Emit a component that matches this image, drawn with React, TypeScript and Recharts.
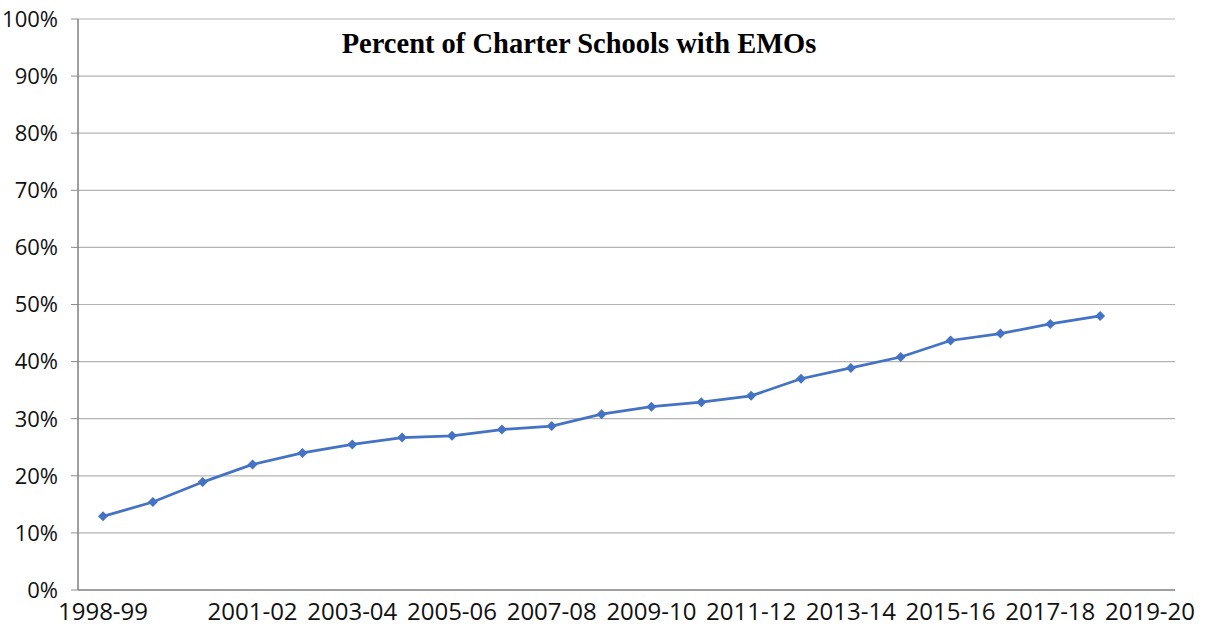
import React from "react";
import { LineChart, Line, XAxis, YAxis, CartesianGrid } from "recharts";

const years = [
  "1998-99", "1999-00", "2000-01", "2001-02", "2002-03", "2003-04", "2004-05",
  "2005-06", "2006-07", "2007-08", "2008-09", "2009-10", "2010-11", "2011-12",
  "2012-13", "2013-14", "2014-15", "2015-16", "2016-17", "2017-18", "2018-19",
  "2019-20",
];

// percent of charter schools run by EMOs (no value yet for 2019-20)
const emoShare = [
  12.9, 15.4, 18.9, 22.0, 24.0, 25.5, 26.7, 27.0, 28.1, 28.7, 30.8, 32.1, 32.9,
  34.0, 37.0, 38.9, 40.8, 43.7, 44.9, 46.6, 48.0, null,
];

const shownLabels = [
  "1998-99", "2001-02", "2003-04", "2005-06", "2007-08", "2009-10", "2011-12",
  "2013-14", "2015-16", "2017-18", "2019-20",
];

const yTicks = [0, 10, 20, 30, 40, 50, 60, 70, 80, 90, 100];

const chartData = years.map((year, i) => ({ year, value: emoShare[i] }));

const Diamond = (props: any) => {
  const { cx, cy, payload } = props;
  if (cx == null || cy == null || payload?.value == null) return null;
  const r = 5;
  return (
    <polygon
      key={payload.year}
      points={`${cx},${cy - r} ${cx + r},${cy} ${cx},${cy + r} ${cx - r},${cy}`}
      fill="#4472C4"
    />
  );
};

export default function App() {
  return (
    <div style={{ position: "absolute", left: 0, top: 0, width: 1205, height: 634, background: "#fff" }}>
      <LineChart
        width={1205}
        height={634}
        data={chartData}
        margin={{ top: 19, right: 30, left: 18, bottom: 0 }}
      >
        <CartesianGrid vertical={false} stroke="#b3b3b3" strokeWidth={1.2} />
        <XAxis
          dataKey="year"
          interval={0}
          padding={{ left: 25, right: 25 }}
          tickLine={false}
          tickSize={0}
          tickMargin={13}
          height={44}
          axisLine={{ stroke: "#8c8c8c", strokeWidth: 1.5 }}
          tick={{ fill: "#111", fontSize: 24, fontFamily: "Open Sans" }}
          tickFormatter={(v: string) => (shownLabels.includes(v) ? v : "")}
        />
        <XAxis
          xAxisId="top"
          dataKey="year"
          orientation="top"
          tick={false}
          tickLine={false}
          height={0}
          axisLine={{ stroke: "#555", strokeWidth: 1.5 }}
        />
        <YAxis
          domain={[0, 100]}
          ticks={yTicks}
          width={60}
          tickSize={7}
          tickMargin={13}
          tickLine={{ stroke: "#8c8c8c" }}
          axisLine={{ stroke: "#7f7f7f", strokeWidth: 1.5 }}
          tick={{ fill: "#111", fontSize: 22, fontFamily: "Open Sans" }}
          tickFormatter={(v: number) => `${v}%`}
        />
        <YAxis
          yAxisId="right"
          orientation="right"
          domain={[0, 100]}
          width={0}
          tick={false}
          tickLine={false}
          axisLine={{ stroke: "#555", strokeWidth: 1.5 }}
        />
        <Line
          type="linear"
          dataKey="value"
          stroke="#4472C4"
          strokeWidth={2.75}
          dot={<Diamond />}
          activeDot={false}
          isAnimationActive={false}
        />
      </LineChart>
      <div
        style={{
          position: "absolute",
          left: 330,
          top: 28,
          width: 498,
          textAlign: "center",
          fontFamily: "Liberation Serif",
          fontWeight: "bold",
          fontSize: 28.5,
          whiteSpace: "nowrap",
          color: "#000",
        }}
      >
        Percent of Charter Schools with EMOs
      </div>
    </div>
  );
}
